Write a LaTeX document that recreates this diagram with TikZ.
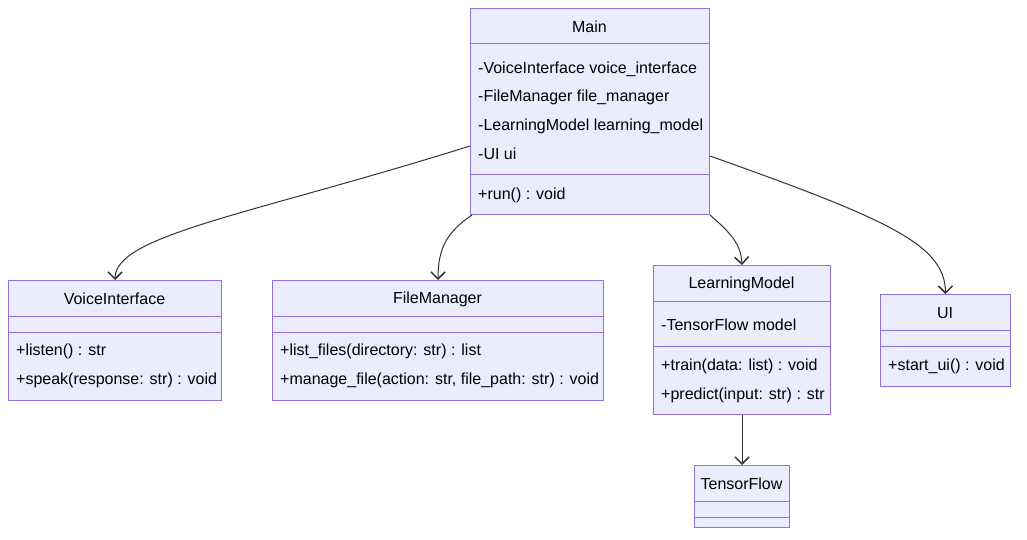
\documentclass[tikz,border=0pt]{standalone}
\usepackage{fontspec}
\setmainfont{Liberation Sans}
\usetikzlibrary{arrows.meta,calc}
\definecolor{boxfill}{HTML}{ECECFF}
\definecolor{boxline}{HTML}{9370DB}
\definecolor{edgeline}{HTML}{333333}
\tikzset{
  classbox/.style={draw=boxline,fill=boxfill,line width=1pt,anchor=north west,inner sep=0pt},
  divider/.style={draw=boxline,line width=1pt},
  title/.style={text=black,inner sep=0pt,font=\fontsize{16}{19}\selectfont},
  member/.style={text=black,anchor=west,inner sep=0pt,font=\fontsize{16}{19}\selectfont},
  dep/.style={draw=edgeline,line width=1pt,-{Straight Barb[length=7pt,width=14pt,line width=1.5pt]}}
}
\begin{document}
\begin{tikzpicture}[x=1pt,y=-1pt]
\useasboundingbox (0,0) rectangle (1027,540);
% Main
\node[classbox,minimum width=239pt,minimum height=206pt] (main) at (470,8) {};
\node[title] (mainT) at (589.5,27) {Main};
\draw[divider] (470,44)--(709,44);
\draw[divider] (470,175)--(709,175);
\node[member] (mainA) at (478,69) {-VoiceInterface voice\_interface};
\node[member] (mainB) at (478,97) {-FileManager file\_manager};
\node[member] (mainC) at (478,126) {-LearningModel learning\_model};
\node[member] (mainD) at (478,154) {-UI ui};
\node[member] (mainM) at (478,195) {+run() : void};
% VoiceInterface
\node[classbox,minimum width=213pt,minimum height=120pt] (voice) at (8,280) {};
\node[title] (voiceT) at (114.5,299) {VoiceInterface};
\draw[divider] (8,316)--(221,316);
\draw[divider] (8,332)--(221,332);
\node[member] (voiceA) at (16,351) {+listen() : str};
\node[member] (voiceB) at (16,380) {+speak(response: str) : void};
% FileManager
\node[classbox,minimum width=331pt,minimum height=120pt] (file) at (272,280) {};
\node[title] (fileT) at (437.5,299) {FileManager};
\draw[divider] (272,316)--(603,316);
\draw[divider] (272,332)--(603,332);
\node[member] (fileA) at (280,351) {+list\_files(directory: str) : list};
\node[member] (fileB) at (280,380) {+manage\_file(action: str, file\_path: str) : void};
% LearningModel
\node[classbox,minimum width=177pt,minimum height=149pt] (learn) at (653,265) {};
\node[title] (learnT) at (741.5,284) {LearningModel};
\draw[divider] (653,301)--(830,301);
\draw[divider] (653,346)--(830,346);
\node[member] (learnA) at (661,325) {-TensorFlow model};
\node[member] (learnB) at (661,366) {+train(data: list) : void};
\node[member] (learnC) at (661,395) {+predict(input: str) : str};
% UI
\node[classbox,minimum width=130pt,minimum height=92pt] (ui) at (880,294) {};
\node[title] (uiT) at (945,313) {UI};
\draw[divider] (880,330)--(1010,330);
\draw[divider] (880,346)--(1010,346);
\node[member] (uiA) at (888,366) {+start\_ui() : void};
% TensorFlow
\node[classbox,minimum width=95pt,minimum height=62pt] (tf) at (694,465) {};
\node[title] (tfT) at (741.5,484) {TensorFlow};
\draw[divider] (694,501)--(789,501);
\draw[divider] (694,517)--(789,517);
% connectors
\draw[dep] ($(main.south west)+(0,-69)$) .. controls (250,215) and (115,235) .. (voice.north);
\draw[dep] ($(main.south west)+(2,0)$) .. controls (447,232) and (438,248) .. (file.north);
\draw[dep] (main.south east) .. controls (732,234) and (741,245) .. (learn.north);
\draw[dep] ($(main.south east)+(0,-59)$) .. controls (890,220) and (945,245) .. (ui.north);
\draw[dep] (learn.south) -- (tf.north);
\end{tikzpicture}
\end{document}
